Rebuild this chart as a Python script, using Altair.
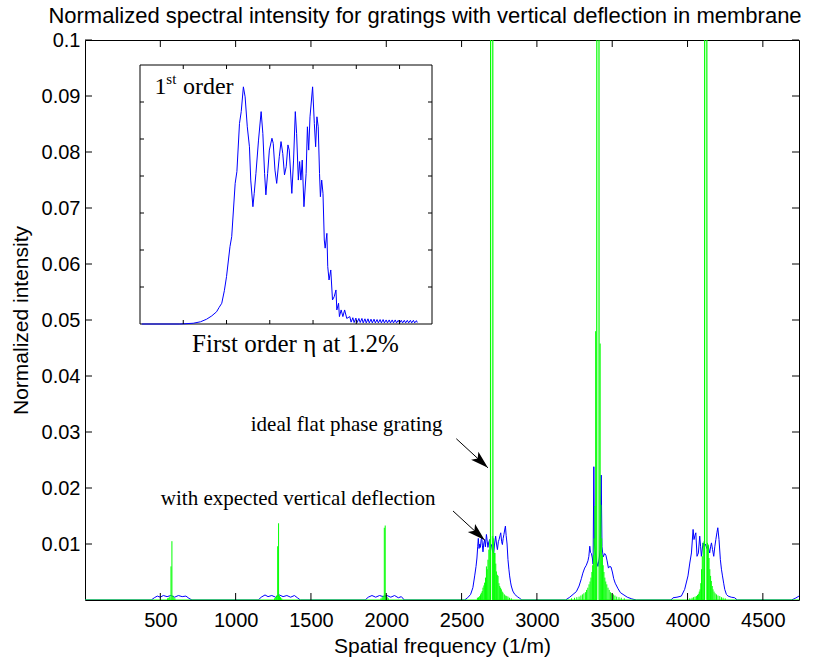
import altair as alt
import pandas as pd

# ---------------- data ----------------
# blue: "with expected vertical deflection"
blue_f = [0, 440, 460, 480, 500, 520, 545, 570, 595, 620, 645, 670, 690, 710,
          1150, 1170, 1195, 1215, 1240, 1265, 1290, 1315, 1340, 1365, 1390, 1410, 1430,
          1860, 1880, 1905, 1930, 1955, 1980, 2005, 2030, 2055, 2080, 2100, 2120,
          2520, 2540, 2560, 2575, 2587, 2596, 2602, 2607, 2611, 2616, 2621, 2625, 2630,
          2634, 2638, 2642, 2647, 2653, 2658, 2665, 2670, 2675, 2681, 2687, 2693, 2698,
          2705, 2713, 2719, 2726, 2732, 2738, 2744, 2749, 2755, 2760, 2766, 2771, 2776,
          2781, 2786, 2791, 2796, 2802, 2808, 2814, 2819, 2825, 2830, 2840, 2853, 2870,
          2886, 2900,
          3190, 3218, 3240, 3262, 3280, 3295, 3305, 3317, 3328, 3339, 3345, 3351, 3356,
          3362, 3368, 3373, 3378, 3382, 3386, 3395, 3405, 3414, 3420, 3427, 3432, 3440,
          3450, 3458, 3466, 3475, 3483, 3492, 3501, 3510, 3520, 3539, 3555, 3572, 3600,
          3630, 3660,
          3890, 3904, 3930, 3959, 3981, 4003, 4015, 4026, 4037, 4043, 4049, 4055, 4063,
          4072, 4081, 4087, 4092, 4103, 4110, 4119, 4128, 4136, 4147, 4153, 4159, 4166,
          4174, 4181, 4188, 4195, 4201, 4209, 4218, 4225, 4232, 4240, 4247, 4258, 4269,
          4290, 4313, 4330,
          4690, 4715, 4740]
blue_v = [0, 0, 0.0004, 0.0007, 0.0005, 0.0008, 0.0006, 0.0008, 0.0005, 0.0008, 0.0006, 0.0007, 0.0003, 0,
          0, 0.0005, 0.0009, 0.0006, 0.0008, 0.0005, 0.0009, 0.0006, 0.0008, 0.0005, 0.0008, 0.0004, 0,
          0, 0.0005, 0.0008, 0.0005, 0.0008, 0.0006, 0.0008, 0.0005, 0.0008, 0.0004, 0.0006, 0,
          0, 0.0004, 0.0010, 0.0022, 0.0043, 0.0060, 0.0075, 0.0095, 0.0110, 0.0092, 0.0100, 0.0094, 0.0108,
          0.0112, 0.0098, 0.0086, 0.0100, 0.0108, 0.0095, 0.0117, 0.0105, 0.0094, 0.0104, 0.0108, 0.0097, 0.0099,
          0.0088, 0.0083, 0.0100, 0.0114, 0.0100, 0.0090, 0.0104, 0.0108, 0.0115, 0.0120, 0.0104, 0.0099, 0.0110,
          0.0117, 0.0125, 0.0132, 0.0115, 0.0100, 0.0072, 0.0055, 0.0043, 0.0032, 0.0025, 0.0016, 0.0010, 0.0006,
          0.0003, 0,
          0, 0.0005, 0.0010, 0.0015, 0.0025, 0.0038, 0.0048, 0.0057, 0.0062, 0.0070, 0.0078, 0.0096, 0.0085,
          0.0083, 0.0075, 0.0064, 0.0238, 0.0100, 0.0090, 0.0070, 0.0060, 0.0075, 0.0090, 0.0223, 0.0095, 0.0077,
          0.0083, 0.0080, 0.0070, 0.0057, 0.0060, 0.0059, 0.0050, 0.0038, 0.0030, 0.0020, 0.0013, 0.0010, 0.0005,
          0.0002, 0,
          0, 0.0004, 0.0005, 0.0007, 0.0019, 0.0043, 0.0066, 0.0084, 0.0126, 0.0108, 0.0115, 0.0120, 0.0078,
          0.0084, 0.0114, 0.0095, 0.0078, 0.0102, 0.0095, 0.0100, 0.0092, 0.0097, 0.0084, 0.0095, 0.0102, 0.0090,
          0.0078, 0.0095, 0.0108, 0.0120, 0.0129, 0.0108, 0.0072, 0.0055, 0.0043, 0.0030, 0.0019, 0.0010, 0.0007,
          0.0005, 0.0004, 0,
          0, 0.0003, 0.0007]

# green: "ideal flat phase grating" - main order peaks (run off the top of the axes)
green_f = [0, 2692, 2700, 2708, 3397, 3405, 3413, 4113, 4121, 4129, 4740]
green_v = [0, 0, 1.0, 0, 0, 1.0, 0, 0, 1.0, 0, 0]

# green side lobes (narrow spikes)
spike_f = [548, 556, 563, 571, 577, 583, 590, 597,
           1258, 1266, 1272, 1279, 1285, 1291, 1298, 1306,
           1965, 1973, 1980, 1987, 1993, 1999, 2006, 2014,
           2605, 2612, 2620, 2626, 2631, 2637, 2642, 2648, 2653, 2659, 2665, 2670, 2675, 2681, 2687, 2693,
           2707, 2713, 2718, 2722, 2727, 2731, 2737, 2742, 2748, 2753, 2759, 2764, 2770, 2775, 2784, 2793,
           2800, 2808, 2818, 2830,
           3230, 3250, 3265, 3280, 3292, 3302, 3312, 3322, 3330, 3338, 3346, 3353, 3359, 3365, 3370, 3375,
           3380, 3385, 3390, 3420, 3425, 3430, 3435, 3440, 3445, 3451, 3457, 3464, 3472, 3480, 3488, 3498,
           3508, 3518, 3530, 3545, 3560, 3580,
           4015, 4030, 4040, 4050, 4059, 4066, 4072, 4078, 4083, 4088, 4093, 4098, 4104, 4110,
           4132, 4138, 4143, 4148, 4153, 4158, 4164, 4169, 4176, 4183, 4192, 4202, 4214, 4225, 4236, 4250]
spike_v = [0.0003, 0.0004, 0.0006, 0.0060, 0.0105, 0.0008, 0.0005, 0.0003,
           0.0003, 0.0005, 0.0008, 0.0096, 0.0137, 0.0008, 0.0005, 0.0003,
           0.0003, 0.0005, 0.0008, 0.0129, 0.0133, 0.0008, 0.0005, 0.0003,
           0.0004, 0.0005, 0.0007, 0.0010, 0.0013, 0.0016, 0.0022, 0.0026, 0.0031, 0.0040, 0.0060, 0.0055,
           0.0072, 0.0090, 0.0108, 0.0114,
           0.0114, 0.0110, 0.0084, 0.0084, 0.0065, 0.0051, 0.0045, 0.0043, 0.0030, 0.0025, 0.0022, 0.0019,
           0.0015, 0.0013, 0.0010, 0.0008, 0.0007, 0.0006, 0.0004, 0.0003,
           0.0003, 0.0004, 0.0005, 0.0006, 0.0008, 0.0010, 0.0012, 0.0014, 0.0018, 0.0022, 0.0028, 0.0033,
           0.0040, 0.0050, 0.0062, 0.0080, 0.0110, 0.0168, 0.0480, 0.0458, 0.0170, 0.0110, 0.0080, 0.0062,
           0.0050, 0.0040, 0.0033, 0.0028, 0.0022, 0.0018, 0.0014, 0.0012, 0.0010, 0.0008, 0.0006, 0.0005,
           0.0004, 0.0003,
           0.0003, 0.0004, 0.0005, 0.0006, 0.0007, 0.0009, 0.0011, 0.0015, 0.0019, 0.0030, 0.0055, 0.0078,
           0.0102, 0.0105,
           0.0102, 0.0099, 0.0075, 0.0055, 0.0043, 0.0034, 0.0025, 0.0019, 0.0015, 0.0012, 0.0010, 0.0008,
           0.0007, 0.0005, 0.0004, 0.0003]

# inset: first order, eta at 1.2 %
inset_u = [0.04, 0.92, 1.23, 1.40, 1.54, 1.66, 1.77, 1.83, 1.89, 1.95, 2.00, 2.08, 2.12, 2.20, 2.24,
           2.30, 2.34, 2.39, 2.43, 2.48, 2.53, 2.56, 2.61, 2.64, 2.68, 2.74, 2.80, 2.84, 2.88, 2.91,
           2.95, 2.99, 3.05, 3.08, 3.12, 3.16, 3.22, 3.26, 3.30, 3.34, 3.38, 3.42, 3.45, 3.51, 3.55,
           3.59, 3.62, 3.66, 3.69, 3.72, 3.75, 3.79, 3.84, 3.87, 3.90, 3.93, 3.99, 4.03, 4.06, 4.09,
           4.12, 4.15, 4.17, 4.20, 4.23, 4.26, 4.28, 4.32, 4.34, 4.37, 4.41, 4.45, 4.49, 4.53, 4.55,
           4.59, 4.61, 4.65, 4.69, 4.73, 4.78, 4.85,
           4.88, 4.92, 4.95, 4.99, 5.02, 5.06, 5.09, 5.13, 5.16, 5.20, 5.23, 5.27, 5.30, 5.34, 5.37,
           5.41, 5.44, 5.48, 5.51, 5.55, 5.58, 5.62, 5.65, 5.69, 5.72, 5.76, 5.79, 5.83, 5.86, 5.90,
           5.93, 5.97, 6.00, 6.04, 6.07, 6.11, 6.14, 6.18, 6.21, 6.25, 6.28, 6.32, 6.35, 6.39, 6.41]
inset_v = [0, 0, 0.02, 0.06, 0.13, 0.22, 0.33, 0.45, 0.56, 0.90, 1.28, 2.09, 2.36, 3.80, 4.12,
           5.42, 5.74, 6.41, 6.14, 5.33, 4.79, 3.89, 3.17, 3.53, 4.07, 4.97, 5.74, 5.15, 4.07, 3.49,
           4.07, 4.70, 5.02, 4.88, 4.16, 3.80, 4.52, 4.93, 4.61, 4.03, 4.25, 4.84, 4.70, 3.53, 4.43,
           5.74, 5.15, 3.89, 4.39, 3.89, 4.43, 3.17, 4.07, 5.33, 4.70, 5.60, 6.41, 5.42, 4.79, 5.60,
           5.33, 4.07, 3.44, 3.89, 3.53, 2.27, 2.05, 2.45, 1.55, 1.19, 1.46, 0.65, 0.74, 0.92, 0.38,
           0.56, 0.20, 0.38, 0.20, 0.38, 0.15, 0.20,
           0.05, 0.17, 0.04, 0.16, 0.04, 0.15, 0.04, 0.15, 0.03, 0.14, 0.03, 0.14, 0.03, 0.13, 0.03,
           0.13, 0.03, 0.12, 0.03, 0.12, 0.03, 0.12, 0.03, 0.11, 0.03, 0.11, 0.03, 0.11, 0.03, 0.11,
           0.03, 0.10, 0.03, 0.10, 0.03, 0.10, 0.03, 0.10, 0.03, 0.10, 0.03, 0.10, 0.03, 0.09, 0.04]

x_ticks = [500, 1000, 1500, 2000, 2500, 3000, 3500, 4000, 4500]
y_ticks = [0.01, 0.02, 0.03, 0.04, 0.05, 0.06, 0.07, 0.08, 0.09, 0.1]
inset_ticks = [1, 2, 3, 4, 5, 6]

# annotations (data coordinates of the main axes)
arrow_f0 = [2465, 2443]
arrow_v0 = [0.0288, 0.0159]
arrow_f1 = [2675, 2653]
arrow_v1 = [0.0236, 0.0107]

serif_text = ["ideal flat phase grating", "with expected vertical deflection"]
serif_f = [1737, 1415]
serif_v = [0.0302, 0.0169]

# ---------------- chart ----------------
W, H = 714, 560
SANS = "Liberation Sans"
SERIF = "Liberation Serif"

xs = alt.Scale(domain=[0, 4740], nice=False, zero=False)
ys = alt.Scale(domain=[0, 0.1], nice=False, zero=False)

blue_df = pd.DataFrame({"f": blue_f, "v": blue_v})
green_df = pd.DataFrame({"f": green_f, "v": green_v})
spike_df = pd.DataFrame({"f": spike_f, "v": spike_v, "base": [0] * len(spike_f)})
inset_df = pd.DataFrame({"u": inset_u, "v": inset_v})
xt_df = pd.DataFrame({"t": x_ticks})
yt_df = pd.DataFrame({"t": y_ticks})
it_df = pd.DataFrame({"t": inset_ticks})
arrow_df = pd.DataFrame({"f0": arrow_f0, "v0": arrow_v0, "f1": arrow_f1, "v1": arrow_v1})
serif_df = pd.DataFrame({"f": serif_f, "v": serif_v, "text": serif_text})

x_axis = alt.Axis(values=x_ticks, format="d", ticks=False, domain=False, grid=False,
                  labelFont=SANS, labelFontSize=20, labelColor="black", labelPadding=10,
                  labelFlush=False, orient="bottom",
                  title="Spatial frequency (1/m)", titleFont=SANS, titleFontSize=21,
                  titleFontWeight="normal", titleColor="black",
                  titleX=357, titleY=46, titleAlign="center", titleBaseline="middle")
y_axis = alt.Axis(values=y_ticks, format=".2~f", ticks=False, domain=False, grid=False,
                  labelFont=SANS, labelFontSize=20, labelColor="black", labelPadding=5,
                  labelFlush=False, orient="left",
                  title="Normalized intensity", titleFont=SANS, titleFontSize=21,
                  titleFontWeight="normal", titleColor="black",
                  titleX=-64, titleY=280, titleAngle=270, titleAlign="center",
                  titleBaseline="middle")


def X(field):
    return alt.X(field, type="quantitative", scale=xs, axis=None)


def Y(field):
    return alt.Y(field, type="quantitative", scale=ys, axis=None)


blue = alt.Chart(blue_df).mark_line(color="#0000ff", strokeWidth=1, clip=True).encode(
    x=alt.X("f:Q", scale=xs, axis=x_axis),
    y=alt.Y("v:Q", scale=ys, axis=y_axis),
)
green = alt.Chart(green_df).mark_line(color="#00ff00", strokeWidth=1.2, clip=True).encode(
    x=X("f"), y=Y("v"))
spikes = alt.Chart(spike_df).mark_rule(color="#00ff00", strokeWidth=1, clip=True).encode(
    x=X("f"), y=Y("v"), y2="base:Q")

TL = 7
tick_bottom = alt.Chart(xt_df).mark_rule(color="black").encode(
    x=X("t"), y=alt.value(H), y2=alt.value(H - TL))
tick_top = alt.Chart(xt_df).mark_rule(color="black").encode(
    x=X("t"), y=alt.value(0), y2=alt.value(TL))
tick_left = alt.Chart(yt_df).mark_rule(color="black").encode(
    y=Y("t"), x=alt.value(0), x2=alt.value(TL))
tick_right = alt.Chart(yt_df).mark_rule(color="black").encode(
    y=Y("t"), x=alt.value(W), x2=alt.value(W - TL))

# inset (own scales, drawn into a pixel window of the plot)
IX0, IX1, IY0, IY1 = 55, 347, 25, 284
ix = alt.Scale(domain=[0, 6.75], range=[IX0, IX1], nice=False, zero=False)
iy = alt.Scale(domain=[0, 7], range=[IY1, IY0], nice=False, zero=False)
inset_box = alt.Chart(pd.DataFrame({"k": [0]})).mark_rect(
    fill="white", stroke="black", strokeWidth=1).encode(
    x=alt.value(IX0), x2=alt.value(IX1), y=alt.value(IY0), y2=alt.value(IY1))
inset_line = alt.Chart(inset_df).mark_line(color="#0000ff", strokeWidth=1).encode(
    x=alt.X("u:Q", scale=ix, axis=None), y=alt.Y("v:Q", scale=iy, axis=None))
ITL = 4
it_b = alt.Chart(it_df).mark_rule(color="black").encode(
    x=alt.X("t:Q", scale=ix, axis=None), y=alt.value(IY1), y2=alt.value(IY1 - ITL))
it_t = alt.Chart(it_df).mark_rule(color="black").encode(
    x=alt.X("t:Q", scale=ix, axis=None), y=alt.value(IY0), y2=alt.value(IY0 + ITL))
it_l = alt.Chart(it_df).mark_rule(color="black").encode(
    y=alt.Y("t:Q", scale=iy, axis=None), x=alt.value(IX0), x2=alt.value(IX0 + ITL))
it_r = alt.Chart(it_df).mark_rule(color="black").encode(
    y=alt.Y("t:Q", scale=iy, axis=None), x=alt.value(IX1), x2=alt.value(IX1 - ITL))

# annotations
arrow_shaft = alt.Chart(arrow_df).mark_rule(color="black", strokeWidth=1).encode(
    x=X("f0"), y=Y("v0"), x2="f1:Q", y2="v1:Q")
arrow_head = alt.Chart(arrow_df).mark_point(
    shape="M0,0 L-2,-0.6 L-1.55,0 L-2,0.6 Z", filled=True, color="black",
    opacity=1, size=320, angle=42.5, strokeWidth=0).encode(x=X("f1"), y=Y("v1"))
serif_labels = alt.Chart(serif_df).mark_text(
    font=SERIF, fontSize=21, color="black", align="center", baseline="alphabetic").encode(
    x=X("f"), y=Y("v"), text="text:N")
inset_caption = alt.Chart(pd.DataFrame({"f": [1397], "v": [0.0442],
                                        "text": ["First order \u03b7 at 1.2%"]})).mark_text(
    font=SERIF, fontSize=25, color="black", align="center", baseline="alphabetic").encode(
    x=X("f"), y=Y("v"), text="text:N")
order_big = alt.Chart(pd.DataFrame({"f": [462, 650], "v": [0.0903, 0.0903],
                                    "text": ["1", "order"]})).mark_text(
    font=SERIF, fontSize=24, color="black", align="left", baseline="alphabetic").encode(
    x=X("f"), y=Y("v"), text="text:N")
order_sup = alt.Chart(pd.DataFrame({"f": [540], "v": [0.0921], "text": ["st"]})).mark_text(
    font=SERIF, fontSize=15, color="black", align="left", baseline="alphabetic").encode(
    x=X("f"), y=Y("v"), text="text:N")

chart = alt.layer(
    blue, green, spikes, tick_bottom, tick_top, tick_left, tick_right,
    inset_box, inset_line, it_b, it_t, it_l, it_r,
    arrow_shaft, arrow_head, serif_labels, inset_caption, order_big, order_sup,
).resolve_scale(
    x="independent", y="independent"
).properties(
    width=W, height=H,
    title=alt.TitleParams(
        "Normalized spectral intensity for gratings with vertical deflection in membrane",
        font=SANS, fontSize=22, fontWeight="normal", color="black",
        anchor="middle", offset=2, dx=-17),
    autosize=alt.AutoSizeParams(type="none"),
    padding={"left": 85, "top": 40, "right": 15, "bottom": 63},
).configure(background="white").configure_view(stroke="black", strokeWidth=1)

chart.save("out.html", embed_options={"renderer": "svg", "actions": False})
